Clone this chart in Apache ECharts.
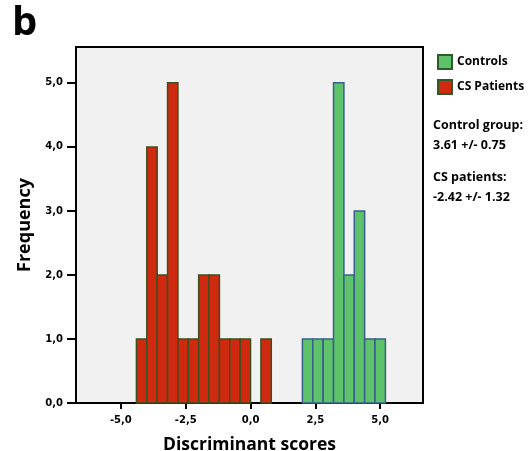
<!DOCTYPE html>
<html lang="en">
<head>
	<meta charset="utf-8" />
	<title>Discriminant scores</title>
	<script src="https://cdn.jsdelivr.net/npm/echarts@6/dist/echarts.min.js"></script>
	<style>
		html, body { margin: 0; padding: 0; background: #fff; }
	</style>
</head>
<body>
	<div id="chart" style="width:529px;height:451px;"></div>
	<script>
		// histogram bins, width 0.4
		var binWidth = 0.4;
		var patientBins = [-4.4, -4.0, -3.6, -3.2, -2.8, -2.4, -2.0, -1.6, -1.2, -0.8, -0.4, 0.4];
		var patientCounts = [1, 4, 2, 5, 1, 1, 2, 2, 1, 1, 1, 1];
		var controlBins = [2.0, 2.4, 2.8, 3.2, 3.6, 4.0, 4.4, 4.8];
		var controlCounts = [1, 1, 1, 5, 2, 3, 1, 1];
		var xTicks = [-5, -2.5, 0, 2.5, 5];
		var yTicks = [0, 1, 2, 3, 4, 5];

		var font = '"Open Sans", "DejaVu Sans", sans-serif';

		function toBars(bins, counts) {
			var out = [];
			for (var i = 0; i < bins.length; i++) {
				out.push([bins[i], bins[i] + binWidth, counts[i]]);
			}
			return out;
		}

		function renderBar(params, api) {
			var p0 = api.coord([api.value(0), api.value(2)]);
			var p1 = api.coord([api.value(1), 0]);
			return {
				type: 'rect',
				shape: { x: p0[0], y: p0[1], width: p1[0] - p0[0], height: p1[1] - p0[1] },
				style: api.style()
			};
		}

		function comma(v) {
			return v.toFixed(1).replace('.', ',');
		}

		var myChart = echarts.init(document.getElementById('chart'));

		var option = {
			animation: false,
			grid: {
				left: 76, right: 106, top: 47, bottom: 48,
				outerBoundsMode: 'none',
				show: true,
				backgroundColor: '#f1f1f1',
				borderColor: '#000',
				borderWidth: 2
			},
			legend: {
				left: 432, top: 49,
				orient: 'vertical',
				itemWidth: 14, itemHeight: 14, itemGap: 9,
				icon: 'rect',
				textStyle: { fontFamily: font, fontWeight: 'bold', fontSize: 12, color: '#000' },
				data: [
					{ name: 'Controls', itemStyle: { color: '#5ec26a', borderColor: '#2f5a2a', borderWidth: 2 } },
					{ name: 'CS Patients', itemStyle: { color: '#cf2a10', borderColor: '#2f5a2a', borderWidth: 2 } }
				]
			},
			xAxis: {
				type: 'value',
				min: -6.73, max: 6.65,
				name: 'Discriminant scores',
				nameLocation: 'middle',
				nameGap: 33,
				nameTextStyle: { fontFamily: font, fontWeight: 'bold', fontSize: 17.5, color: '#000' },
				axisLine: { onZero: false, lineStyle: { color: '#000', width: 2 } },
				axisTick: { customValues: xTicks, length: 6, lineStyle: { color: '#000', width: 2 } },
				axisLabel: {
					customValues: xTicks,
					formatter: comma,
					fontFamily: '"DejaVu Sans", sans-serif', fontWeight: 'bold', fontSize: 10, color: '#000',
					margin: 12
				},
				splitLine: { show: false }
			},
			yAxis: {
				type: 'value',
				min: 0, max: 5.56,
				name: 'Frequency',
				nameLocation: 'middle',
				nameGap: 42,
				nameTextStyle: { fontFamily: font, fontWeight: 'bold', fontSize: 18, color: '#000' },
				axisLine: { show: true, onZero: false, lineStyle: { color: '#000', width: 2 } },
				axisTick: { show: true, customValues: yTicks, length: 9, lineStyle: { color: '#000', width: 2 } },
				axisLabel: {
					customValues: yTicks,
					formatter: comma,
					fontFamily: '"DejaVu Sans", sans-serif', fontWeight: 'bold', fontSize: 10, color: '#000',
					margin: 13
				},
				splitLine: { show: false }
			},
			graphic: [
				{ type: 'text', left: 12, top: 4, style: { text: 'b', font: 'bold 40px ' + font, fill: '#000' } },
				{ type: 'text', left: 433, top: 115, style: { text: 'Control group:\n3.61 +/- 0.75', font: 'bold 12.5px ' + font, lineHeight: 20, fill: '#000' } },
				{ type: 'text', left: 433, top: 167, style: { text: 'CS patients:\n-2.42 +/- 1.32', font: 'bold 12.5px ' + font, lineHeight: 20, fill: '#000' } }
			],
			series: [
				{
					name: 'Controls',
					type: 'custom',
					renderItem: renderBar,
					encode: { x: [0, 1], y: 2 },
					itemStyle: { color: '#5ec26a', borderColor: '#36608f', borderWidth: 1.5 },
					data: toBars(controlBins, controlCounts)
				},
				{
					name: 'CS Patients',
					type: 'custom',
					renderItem: renderBar,
					encode: { x: [0, 1], y: 2 },
					itemStyle: { color: '#cf2a10', borderColor: '#3d4f1e', borderWidth: 1.5 },
					data: toBars(patientBins, patientCounts)
				}
			]
		};
		myChart.setOption(option);
	</script>
</body>
</html>
